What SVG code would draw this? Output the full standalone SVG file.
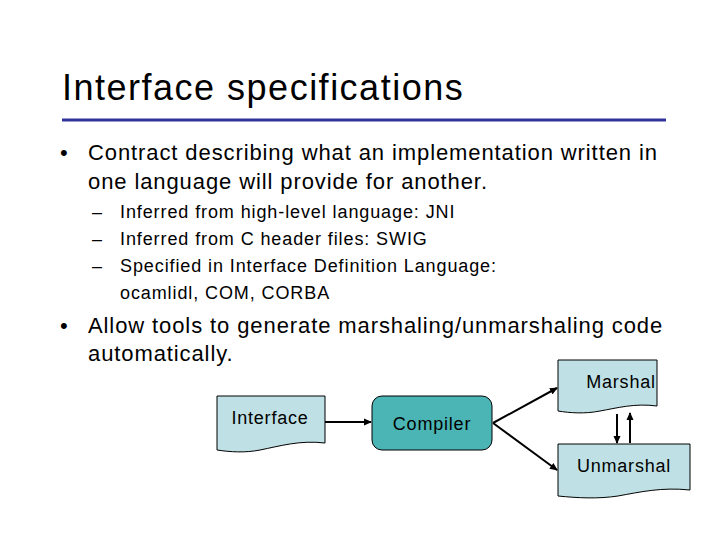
<svg xmlns="http://www.w3.org/2000/svg" width="720" height="540" viewBox="0 0 720 540">
<defs>
<style>
text{font-family:"Liberation Sans",Arial,sans-serif;fill:#000}
.b{font-size:22px;letter-spacing:0.9px}
.s{font-size:18px;letter-spacing:0.9px}
.n{font-size:18px;letter-spacing:0.8px}
.doc{fill:#bfe0e4;stroke:#000;stroke-width:1}
.c{stroke:#000;stroke-width:2;fill:none;marker-end:url(#a)}
</style>
<marker id="a" markerWidth="8" markerHeight="8" refX="7" refY="4" orient="auto" markerUnits="userSpaceOnUse"><path d="M0,0.5 L8,4 L0,7.5 z" fill="#000"/></marker>
</defs>
<rect width="720" height="540" fill="#fff"/>
<text x="62" y="100" font-size="36" letter-spacing="1.5">Interface specifications</text>
<line x1="62" y1="120" x2="666" y2="120" stroke="#333399" stroke-width="3"/>
<text x="60" y="160" class="b">•</text>
<text x="88" y="160" class="b">Contract describing what an implementation written in</text>
<text x="88" y="189" class="b">one language will provide for another.</text>
<text x="92" y="218" class="s">–</text>
<text x="120" y="218" class="s">Inferred from high-level language: JNI</text>
<text x="92" y="245" class="s">–</text>
<text x="120" y="245" class="s">Inferred from C header files: SWIG</text>
<text x="92" y="272" class="s">–</text>
<text x="120" y="272" class="s">Specified in Interface Definition Language:</text>
<text x="120" y="299" class="s">ocamlidl, COM, CORBA</text>
<text x="60" y="333" class="b">•</text>
<text x="88" y="333" class="b">Allow tools to generate marshaling/unmarshaling code</text>
<text x="88" y="361" class="b">automatically.</text>
<g id="connectors">
<line class="c" x1="325" y1="422" x2="371" y2="422"/>
<line class="c" x1="493" y1="423" x2="557" y2="388"/>
<line class="c" x1="493" y1="423" x2="557" y2="470"/>
<line class="c" x1="617" y1="414" x2="617" y2="443"/>
<line class="c" x1="630" y1="443" x2="630" y2="413"/>
</g>
<g id="interface">
<path class="doc" d="M217,396 H325 V443 C300,440 280,446 260,450 C245,453 230,452 217,450 Z"/>
<text x="270" y="424" class="n" text-anchor="middle">Interface</text>
</g>
<g id="compiler">
<rect x="372" y="396" width="120" height="54" rx="10" fill="#4bb5b5" stroke="#000" stroke-width="1"/>
<text x="432" y="430" class="n" text-anchor="middle">Compiler</text>
</g>
<g id="marshal">
<path class="doc" d="M558,360 H657 V406 C635,403 617,408 600,411 C585,414 570,413 558,411 Z"/>
<text x="621" y="388" class="n" text-anchor="middle">Marshal</text>
</g>
<g id="unmarshal">
<path class="doc" d="M558,444 H690 V490 C662,487 640,492 618,496 C598,499 578,498 558,496 Z"/>
<text x="624" y="472" class="n" text-anchor="middle">Unmarshal</text>
</g>
</svg>
